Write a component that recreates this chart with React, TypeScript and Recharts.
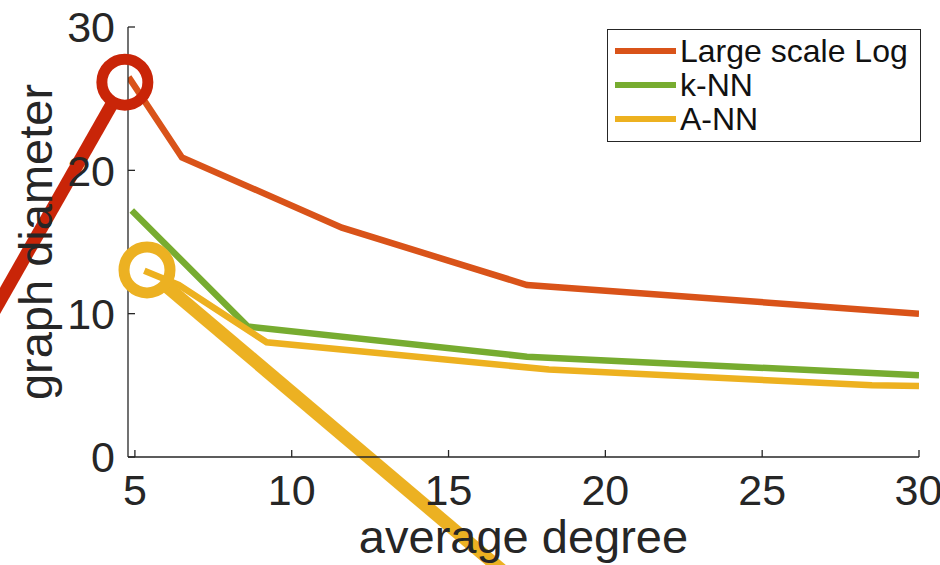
import React from 'react';
import { LineChart, Line, XAxis, YAxis, Legend, ReferenceDot, ReferenceLine } from 'recharts';

// ---- data ----
const xTicks = [5, 10, 15, 20, 25, 30];
const yTicks = [0, 10, 20, 30];

const largeScaleLogX = [4.8, 6.5, 11.6, 17.5, 30];
const largeScaleLogY = [26.5, 20.9, 16.0, 12.0, 10.0];
const knnX = [4.9, 8.6, 17.5, 30];
const knnY = [17.2, 9.1, 7.0, 5.7];
const annX = [5.3, 6.4, 9.2, 18.2, 28.5, 30];
const annY = [13.0, 12.0, 8.0, 6.1, 5.0, 4.95];

const seriesNames = ['Large scale Log', 'k-NN', 'A-NN'];
const seriesColors = ['#D95319', '#77AC30', '#EDB120'];

// annotation overlay (data coordinates)
const redCircle = { x: 4.68, y: 26.15 };
const redPointer = [{ x: 4.31, y: 24.78 }, { x: 0.061, y: 8.44 }];
const yellowCircle = { x: 5.386, y: 13.05 };
const yellowPointer = [{ x: 5.947, y: 12.02 }, { x: 17.6, y: -9.56 }];

const zip = (xs: number[], ys: number[]) => xs.map((x, i) => ({ x, y: ys[i] }));
const seriesData = [zip(largeScaleLogX, largeScaleLogY), zip(knnX, knnY), zip(annX, annY)];

const FONT = '"Liberation Sans", Arial, Helvetica, sans-serif';
const AXIS = '#262626';

const renderLegend = () => (
  <div
    style={{
      width: 314,
      height: 113,
      boxSizing: 'border-box',
      border: `1.3px solid ${AXIS}`,
      background: '#fff',
      paddingTop: 4,
      fontFamily: FONT,
    }}
  >
    {seriesNames.map((n, i) => (
      <div key={n} style={{ display: 'flex', alignItems: 'center', height: 34 }}>
        <div style={{ marginLeft: 7, width: 61, height: 6, background: seriesColors[i] }} />
        <span style={{ marginLeft: 4, fontSize: 32, lineHeight: '34px', color: '#111' }}>{n}</span>
      </div>
    ))}
  </div>
);

const XLabel = (props: any) => {
  const vb = props.viewBox;
  return (
    <text x={vb.x + vb.width / 2} y={vb.y + 96} textAnchor="middle" fontSize={47} fill={AXIS} fontFamily={FONT}>
      average degree
    </text>
  );
};

const YLabel = (props: any) => {
  const vb = props.viewBox;
  const cx = vb.x + 52;
  const cy = vb.y + vb.height / 2;
  return (
    <text
      x={0}
      y={0}
      transform={`translate(${cx},${cy}) rotate(-90)`}
      textAnchor="middle"
      fontSize={47}
      fill={AXIS}
      fontFamily={FONT}
    >
      graph diameter
    </text>
  );
};

export default function App() {
  return (
    <div style={{ position: 'absolute', left: 0, top: 0, background: '#fff' }}>
      <LineChart
        width={940}
        height={565}
        margin={{ top: 27, right: 21, bottom: 0, left: 0 }}
        style={{ fontFamily: FONT }}
      >
        <XAxis
          xAxisId={0}
          dataKey="x"
          type="number"
          domain={[4.78, 30]}
          allowDataOverflow
          ticks={xTicks}
          height={108}
          tickSize={-7}
          tickMargin={24}
          axisLine={{ stroke: AXIS, strokeWidth: 1.3 }}
          tickLine={{ stroke: AXIS, strokeWidth: 1.3 }}
          tick={{ fill: AXIS, fontSize: 43 }}
          label={<XLabel />}
        />
        <XAxis
          xAxisId="top"
          orientation="top"
          dataKey="x"
          type="number"
          domain={[4.78, 30]}
          allowDataOverflow
          ticks={xTicks}
          height={0}
          tickSize={-7}
          axisLine={{ stroke: AXIS, strokeWidth: 1.3 }}
          tickLine={{ stroke: AXIS, strokeWidth: 1.3 }}
          tick={false}
        />
        <YAxis
          yAxisId={0}
          type="number"
          domain={[0, 30]}
          allowDataOverflow
          ticks={yTicks}
          width={128}
          tickSize={-7}
          tickMargin={20}
          axisLine={{ stroke: AXIS, strokeWidth: 1.3 }}
          tickLine={{ stroke: AXIS, strokeWidth: 1.3 }}
          tick={{ fill: AXIS, fontSize: 43 }}
          label={<YLabel />}
        />
        <YAxis
          yAxisId="right"
          orientation="right"
          type="number"
          domain={[0, 30]}
          allowDataOverflow
          ticks={yTicks}
          width={0}
          tickSize={-7}
          axisLine={{ stroke: AXIS, strokeWidth: 1.3 }}
          tickLine={{ stroke: AXIS, strokeWidth: 1.3 }}
          tick={false}
        />
        {seriesNames.map((n, i) => (
          <Line
            key={n}
            name={n}
            data={seriesData[i]}
            dataKey="y"
            type="linear"
            stroke={seriesColors[i]}
            strokeWidth={6.5}
            dot={false}
            activeDot={false}
            isAnimationActive={false}
          />
        ))}
        <Legend
          layout="vertical"
          align="center"
          verticalAlign="middle"
          content={renderLegend}
          wrapperStyle={{ left: 607, top: 29, width: 314, height: 113 }}
        />
        <ReferenceLine
          segment={redPointer}
          stroke="#C92508"
          strokeWidth={13}
          ifOverflow="visible"
        />
        <ReferenceDot
          x={redCircle.x}
          y={redCircle.y}
          r={23}
          fill="none"
          stroke="#C92508"
          strokeWidth={11}
          ifOverflow="visible"
        />
        <ReferenceLine
          segment={yellowPointer}
          stroke="#ECB122"
          strokeWidth={13}
          ifOverflow="visible"
        />
        <ReferenceDot
          x={yellowCircle.x}
          y={yellowCircle.y}
          r={23}
          fill="none"
          stroke="#ECB122"
          strokeWidth={11}
          ifOverflow="visible"
        />
      </LineChart>
    </div>
  );
}
